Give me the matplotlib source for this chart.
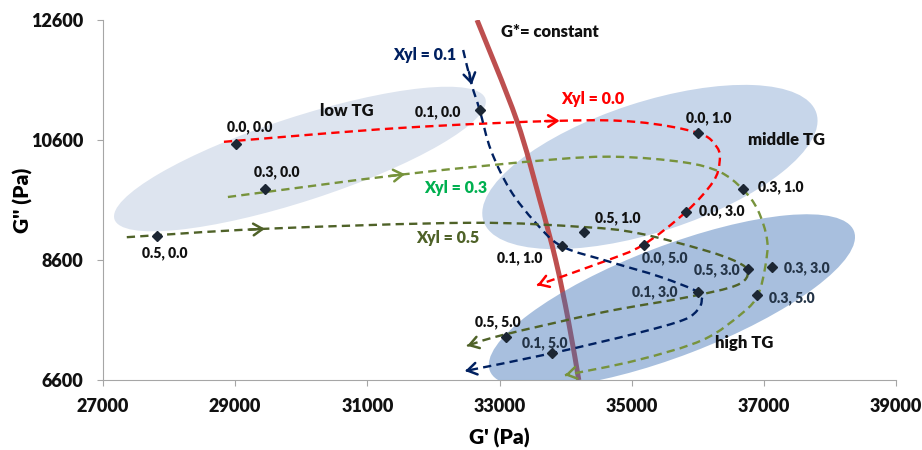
import numpy as np
import matplotlib
matplotlib.use("Agg")
import matplotlib.pyplot as plt
from matplotlib.path import Path
from matplotlib.patches import PathPatch, Ellipse
from matplotlib.transforms import Affine2D

plt.rcParams['font.family'] = ['Lato', 'DejaVu Sans']
plt.rcParams['font.weight'] = 'heavy'

# measured samples: label "Xyl, time" and G', G'' (Pa)
point_labels = ["0.0, 0.0", "0.3, 0.0", "0.5, 0.0", "0.1, 0.0",
                "0.0, 1.0", "0.3, 1.0", "0.0, 3.0", "0.5, 1.0",
                "0.1, 1.0", "0.0, 5.0", "0.5, 3.0", "0.3, 3.0",
                "0.1, 3.0", "0.3, 5.0", "0.5, 5.0", "0.1, 5.0"]
point_gp = [29010, 29450, 27820, 32700, 36000, 36680, 35820, 34280,
            33940, 35190, 36760, 37120, 36000, 36890, 33100, 33800]
point_gpp = [10530, 9780, 9000, 11100, 10720, 9780, 9400, 9070,
             8830, 8850, 8450, 8480, 8070, 8020, 7320, 7050]

# hand drawn trend paths (G', G'') for each xylose level
xyl00_gp = [28830, 31490, 33910, 35080, 36000, 36290, 36330, 36230, 35820, 35170, 34570, 33570]
xyl00_gpp = [10570, 10800, 10920, 10900, 10720, 10480, 10230, 9900, 9400, 8850, 8570, 8180]

xyl01_gp = [32450, 32580, 32700, 32870, 33160, 33540, 33940, 34670, 35430,
            36000, 36060, 36000, 35780, 35080, 33810, 32480]
xyl01_gpp = [12100, 11520, 11100, 10430, 9770, 9230, 8830, 8570, 8320,
             8070, 7930, 7770, 7600, 7380, 7050, 6750]

xyl03_gp = [28890, 31570, 33760, 34780, 35780, 36330, 36680, 36910, 37050,
            37020, 36910, 36680, 36080, 35080, 33990]
xyl03_gpp = [9650, 10030, 10270, 10320, 10230, 10070, 9780, 9430, 8930,
             8480, 8020, 7720, 7270, 6930, 6680]

xyl05_gp = [27360, 29450, 32550, 34260, 35080, 36080, 36590, 36760, 36590,
            35840, 34570, 33050, 32510]
xyl05_gpp = [8980, 9120, 9220, 9150, 9050, 8770, 8570, 8400, 8180,
             7980, 7730, 7350, 7170]

gstar_gp = [32660, 33260, 33610, 33850, 34040, 34200]
gstar_gpp = [12600, 10930, 9600, 8600, 7600, 6600]


def smooth_path(xs, ys):
  # catmull-rom through the traced points, as bezier segments
  pts = np.column_stack([xs, ys]).astype(float)
  ext = np.vstack([pts[0], pts, pts[-1]])
  verts = [pts[0]]
  codes = [Path.MOVETO]
  for i in range(1, len(ext) - 2):
    p0, p1, p2, p3 = ext[i - 1], ext[i], ext[i + 1], ext[i + 2]
    verts += [p1 + (p2 - p0) / 6, p2 - (p3 - p1) / 6, p2]
    codes += [Path.CURVE4] * 3
  return Path(verts, codes)


def arrow(ax, tip, tail, color, z=6):
  ax.annotate('', xy=tip, xytext=tail,
              arrowprops=dict(arrowstyle='->,head_length=0.55,head_width=0.35',
                              color=color, lw=1.8, shrinkA=0, shrinkB=0,
                              mutation_scale=12),
              zorder=z, annotation_clip=False)


fig = plt.figure(figsize=(9.22, 4.5), dpi=100)
ax = fig.add_axes([103 / 922, 70 / 450, 793 / 922, 360 / 450])
ax.set_xlim(27000, 39000)
ax.set_ylim(6600, 12600)

# pixel-like units for the ellipses
sx = 12000 / 793
sy = 6000 / 360
pix = Affine2D().scale(sx, sy) + ax.transData

ellipses = [((29980, 10283), 390, 84, 18, '#dde4ef', 1.0, 1),
            ((35276, 10150), 350, 130, 18, '#c7d6ea', 1.0, 1),
            ((35609, 7917), 390, 110, 21, '#3e73b6', 0.45, 3)]
for (cx, cy), w, h, ang, col, a, z in ellipses:
  ax.add_patch(Ellipse((cx / sx, cy / sy), w, h, angle=ang, transform=pix,
                       facecolor=col, edgecolor='none', alpha=a, zorder=z))

# G* = constant line (above low/middle, under high region)
gp = smooth_path(gstar_gp, gstar_gpp)
ax.add_patch(PathPatch(gp, fill=False, edgecolor='#bd4f4f', lw=3.6,
                       capstyle='butt', zorder=2))

curves = [(xyl00_gp, xyl00_gpp, '#ff0000'),
          (xyl01_gp, xyl01_gpp, '#002060'),
          (xyl03_gp, xyl03_gpp, '#77933c'),
          (xyl05_gp, xyl05_gpp, '#4f6228')]
for xs, ys, c in curves:
  p = smooth_path(xs, ys)
  ax.add_patch(PathPatch(p, fill=False, edgecolor=c, lw=1.7,
                         linestyle=(0, (3.5, 2.2)), zorder=4))
  tip = p.vertices[-1]
  ctrl = p.vertices[-2]
  arrow(ax, tip, tip + 0.15 * (ctrl - tip), c)

# arrows partway along the paths
arrow(ax, (33910, 10920), (33690, 10915), '#ff0000')
arrow(ax, (32580, 11520), (32540, 11730), '#002060')
arrow(ax, (31570, 10030), (31340, 10000), '#77933c')
arrow(ax, (29450, 9120), (29220, 9105), '#4f6228')

ax.plot(point_gp, point_gpp, linestyle='none', marker='D', markersize=5,
        color='#1c2633', zorder=7)

label_off = [(14, 17), (12, 17), (8, -17), (-42, -2),
             (11, 15), (38, 2), (36, 1), (34, 14),
             (-42, -12), (21, -13), (-31, -1), (35, -1),
             (-43, 0), (35, -3), (-8, 15), (-8, 10)]
inside_high = {"0.0, 5.0", "0.5, 3.0", "0.3, 3.0", "0.1, 3.0", "0.3, 5.0", "0.1, 5.0"}
for lab, x, y, off in zip(point_labels, point_gp, point_gpp, label_off):
  col = '#243447' if lab in inside_high else '#111111'
  ax.annotate(lab, (x, y), xytext=off, textcoords='offset pixels',
              ha='center', va='center', fontsize=10, color=col, zorder=8)

ax.text(30690, 11080, 'low TG', ha='center', va='center', fontsize=12, color='#111111', zorder=8)
ax.text(37350, 10600, 'middle TG', ha='center', va='center', fontsize=12, color='#111111', zorder=8)
ax.text(36710, 7217, 'high TG', ha='center', va='center', fontsize=12, color='#111111', zorder=8)
ax.text(33760, 12400, 'G*= constant', ha='center', va='center', fontsize=12, color='#111111', zorder=8)
ax.text(31870, 12017, 'Xyl = 0.1', ha='center', va='center', fontsize=11.5, color='#002060', zorder=8)
ax.text(34410, 11283, 'Xyl = 0.0', ha='center', va='center', fontsize=11.5, color='#ff0000', zorder=8)
ax.text(32330, 9800, 'Xyl = 0.3', ha='center', va='center', fontsize=11.5, color='#00b050', zorder=8)
ax.text(32220, 8967, 'Xyl = 0.5', ha='center', va='center', fontsize=11.5, color='#4f6228', zorder=8)

ax.set_xticks(np.arange(27000, 39001, 2000))
ax.set_yticks(np.arange(6600, 12601, 2000))
for s in ['top', 'right']:
  ax.spines[s].set_visible(False)
for s in ['left', 'bottom']:
  ax.spines[s].set_color('#a6a6a6')
  ax.spines[s].set_zorder(0)
ax.tick_params(axis='both', colors='#a6a6a6', length=4, labelsize=13,
               labelcolor='#111111')
ax.tick_params(axis='y', pad=10)
ax.tick_params(axis='x', pad=9)
for t in ax.get_xticklabels() + ax.get_yticklabels():
  t.set_fontweight('heavy')
ax.set_xlabel("G' (Pa)", fontsize=15, fontweight='heavy', labelpad=9)
ax.set_ylabel("G'' (Pa)", fontsize=15, fontweight='heavy')
ax.yaxis.set_label_coords(-0.088, 0.5)

fig.savefig('out.png', dpi=100)
